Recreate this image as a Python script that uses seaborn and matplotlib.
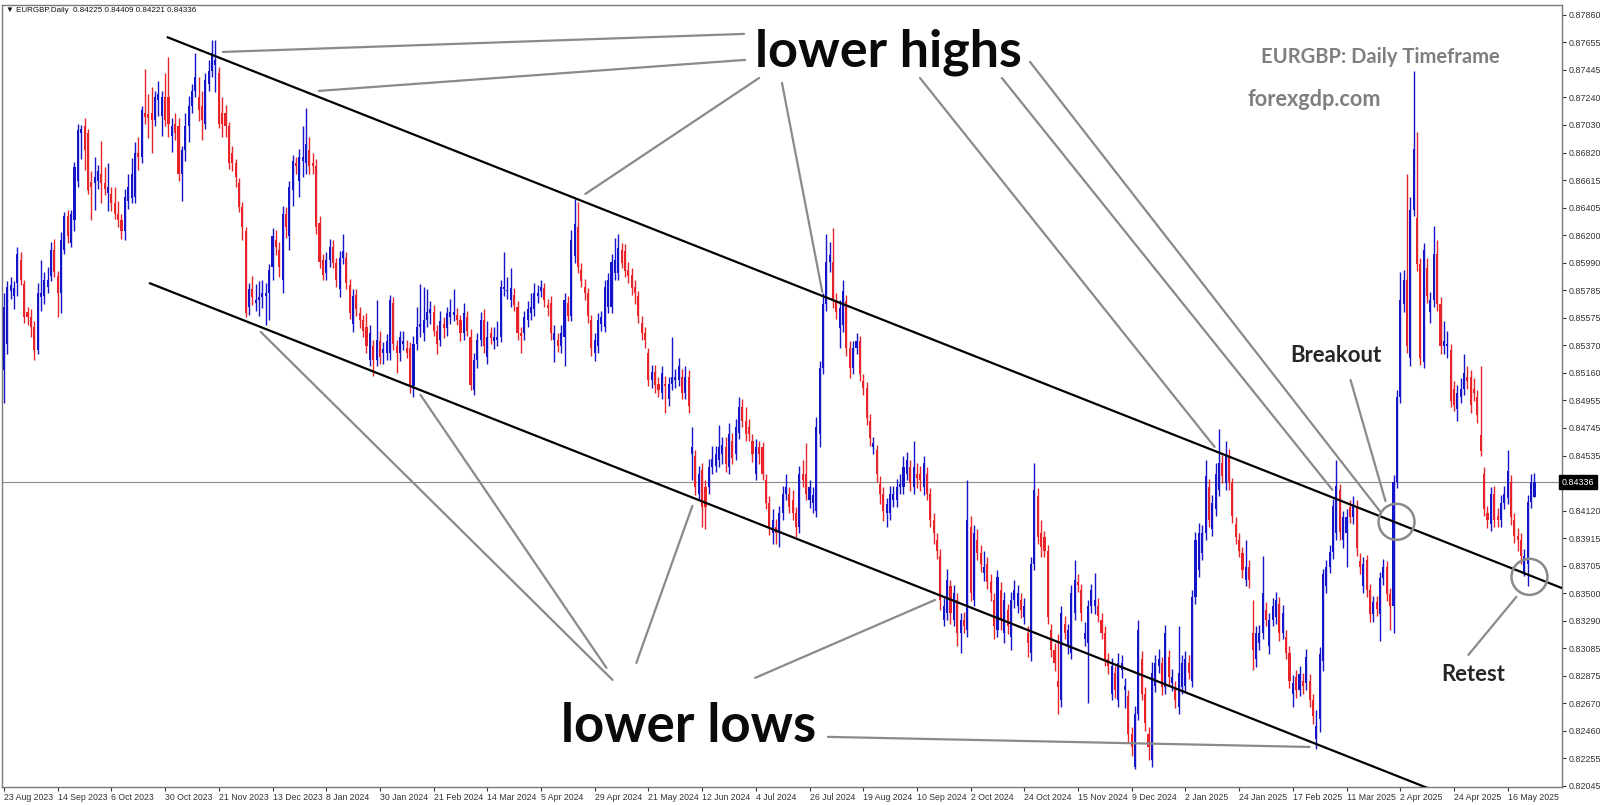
import numpy as np
import matplotlib
matplotlib.use("Agg")
import matplotlib.pyplot as plt
from matplotlib.patches import Ellipse
import seaborn as sns

# daily EURGBP candles, prices in pips (x 1e-4)
open_pips = [
    8518, 8538, 8578, 8574, 8584, 8601, 8583, 8562, 8558, 8551,
    8533, 8573, 8574, 8581, 8589, 8609, 8589, 8576, 8609, 8634,
    8614, 8631, 8661, 8697, 8702, 8697, 8660, 8659, 8661, 8666,
    8659, 8652, 8651, 8644, 8636, 8631, 8623, 8646, 8648, 8649,
    8682, 8679, 8712, 8711, 8712, 8707, 8722, 8710, 8724, 8724,
    8695, 8704, 8702, 8666, 8684, 8702, 8717, 8729, 8724, 8717,
    8704, 8734, 8744, 8748, 8742, 8712, 8712, 8702, 8682, 8674,
    8659, 8641, 8623, 8566, 8579, 8569, 8571, 8573, 8574, 8576,
    8596, 8616, 8609, 8586, 8636, 8619, 8654, 8674, 8661, 8676,
    8674, 8684, 8674, 8672, 8629, 8601, 8591, 8601,
    8611, 8599, 8579, 8603, 8603, 8582, 8553, 8575, 8561, 8556,
    8551, 8526, 8536, 8526, 8540, 8531, 8531, 8531, 8569, 8536,
    8531, 8538, 8535, 8535, 8506, 8538, 8551, 8546, 8556, 8561,
    8562, 8548, 8541, 8553, 8550, 8558, 8560, 8560, 8556, 8546,
    8558, 8543, 8503, 8526, 8541, 8556, 8528, 8546, 8540, 8541,
    8543, 8579, 8578, 8571, 8575, 8566, 8546, 8546, 8556, 8561,
    8564, 8574, 8578, 8580, 8567, 8569, 8541, 8541, 8536, 8543,
    8569, 8559, 8604, 8626, 8594, 8581, 8576, 8556, 8531, 8536,
    8553, 8551, 8566, 8566, 8591, 8591, 8609, 8608, 8594, 8590,
    8581, 8574, 8554, 8546, 8531, 8511, 8517, 8508, 8501, 8508,
    8496, 8508, 8511, 8511, 8513, 8501, 8513,
    8455, 8453, 8425, 8443, 8430, 8430, 8445, 8446, 8450, 8455,
    8460, 8445, 8465, 8455, 8471, 8490, 8480, 8475, 8465, 8440,
    8460, 8460, 8435, 8418, 8395, 8400, 8395, 8410, 8425, 8425,
    8420, 8410, 8400, 8440, 8440, 8420, 8418, 8412, 8470, 8520,
    8568, 8600, 8600, 8570, 8550, 8552, 8570, 8535, 8520, 8535,
    8540, 8510, 8505, 8480, 8460, 8458, 8432, 8425, 8410, 8410,
    8420, 8420, 8430, 8430, 8440, 8445, 8430, 8440, 8440, 8430,
    8440, 8425, 8405, 8390, 8378, 8330, 8335, 8355, 8330, 8345,
    8320, 8330, 8322, 8400, 8345, 8390, 8380, 8365, 8372, 8358,
    8345, 8322, 8352, 8320, 8337, 8317, 8345, 8340, 8345, 8332,
    8320, 8305, 8372, 8423,
    8395, 8392, 8382, 8322, 8307, 8284, 8269, 8327, 8310, 8305,
    8335, 8358, 8352, 8315, 8312, 8340, 8340, 8340, 8330, 8320,
    8300, 8274, 8290, 8269, 8292, 8277, 8272, 8244, 8219, 8259,
    8300, 8274, 8244, 8224, 8280, 8295, 8297, 8279, 8302, 8282,
    8279, 8264, 8279, 8280, 8297, 8284, 8347, 8367, 8380, 8395,
    8430, 8398, 8413, 8428, 8448, 8433, 8453, 8433, 8402, 8390,
    8380, 8360, 8370, 8320, 8300, 8312, 8320, 8337, 8310, 8330,
    8332, 8342, 8320, 8317, 8305, 8274, 8287, 8277, 8284, 8282,
    8284, 8269, 8240, 8255,
    8299, 8355, 8370, 8381, 8395, 8428, 8390, 8395, 8415, 8407,
    8416, 8374, 8355, 8375, 8352, 8334, 8343, 8334, 8361, 8370,
    8349, 8340, 8434, 8498, 8568, 8586, 8527, 8639, 8633, 8598,
    8524, 8595, 8562, 8571, 8606, 8568, 8536, 8536, 8533, 8504,
    8489, 8498, 8504, 8513, 8513, 8504, 8498, 8469, 8440, 8410,
    8402, 8425, 8408, 8405, 8418, 8422, 8434, 8405, 8393, 8390,
    8366, 8372, 8419, 8422.5,
]

close_pips = [
    8566, 8581, 8582, 8580, 8606, 8586, 8558, 8558, 8551, 8533,
    8576, 8576, 8586, 8586, 8609, 8592, 8576, 8616, 8634, 8619,
    8636, 8671, 8699, 8700, 8684, 8654, 8656, 8664, 8668, 8659,
    8655, 8656, 8644, 8636, 8631, 8623, 8649, 8656, 8666, 8682,
    8679, 8714, 8709, 8708, 8707, 8724, 8726, 8724, 8707, 8704,
    8702, 8697, 8666, 8684, 8702, 8717, 8729, 8739, 8714, 8707,
    8737, 8744, 8757, 8752, 8704, 8704, 8702, 8674, 8674, 8664,
    8641, 8626, 8561, 8579, 8573, 8571, 8573, 8576, 8576, 8594,
    8619, 8611, 8596, 8636, 8626, 8656, 8676, 8672, 8679, 8679,
    8689, 8672, 8672, 8626, 8600, 8590, 8601, 8611,
    8599, 8586, 8603, 8608, 8584, 8561, 8574, 8564, 8556, 8548,
    8536, 8546, 8526, 8541, 8528, 8534, 8540, 8571, 8538, 8531,
    8543, 8540, 8531, 8506, 8538, 8551, 8553, 8556, 8562, 8564,
    8548, 8538, 8555, 8550, 8561, 8562, 8562, 8556, 8546, 8561,
    8548, 8507, 8526, 8541, 8556, 8536, 8543, 8542, 8543, 8543,
    8581, 8581, 8578, 8580, 8567, 8546, 8544, 8558, 8564, 8566,
    8576, 8576, 8581, 8571, 8565, 8546, 8546, 8536, 8546, 8571,
    8559, 8616, 8628, 8596, 8585, 8576, 8559, 8535, 8541, 8556,
    8558, 8581, 8586, 8600, 8601, 8610, 8599, 8593, 8589, 8580,
    8576, 8559, 8546, 8541, 8511, 8517, 8507, 8503, 8516, 8506,
    8508, 8513, 8513, 8521, 8501, 8513, 8491,
    8460, 8430, 8440, 8415, 8415, 8445, 8451, 8455, 8460, 8462,
    8447, 8470, 8452, 8475, 8490, 8480, 8470, 8470, 8455, 8460,
    8455, 8440, 8418, 8400, 8405, 8395, 8410, 8425, 8430, 8415,
    8410, 8400, 8440, 8435, 8425, 8430, 8424, 8475, 8520, 8568,
    8600, 8605, 8570, 8562, 8565, 8578, 8535, 8520, 8535, 8540,
    8515, 8505, 8482, 8467, 8463, 8440, 8425, 8412, 8417, 8425,
    8425, 8430, 8432, 8445, 8450, 8433, 8445, 8437, 8435, 8448,
    8425, 8405, 8395, 8382, 8345, 8340, 8360, 8335, 8350, 8320,
    8330, 8325, 8405, 8350, 8395, 8380, 8372, 8370, 8358, 8350,
    8325, 8362, 8330, 8345, 8325, 8345, 8352, 8350, 8337, 8340,
    8312, 8372, 8428, 8392,
    8385, 8382, 8332, 8307, 8297, 8279, 8335, 8320, 8322, 8350,
    8360, 8356, 8335, 8320, 8340, 8352, 8345, 8333, 8320, 8300,
    8295, 8295, 8277, 8297, 8297, 8280, 8244, 8234, 8259, 8322,
    8274, 8252, 8234, 8290, 8297, 8300, 8279, 8320, 8287, 8287,
    8269, 8290, 8297, 8300, 8290, 8347, 8390, 8395, 8395, 8438,
    8405, 8418, 8440, 8448, 8438, 8453, 8433, 8408, 8392, 8382,
    8367, 8370, 8360, 8307, 8320, 8320, 8350, 8330, 8330, 8340,
    8345, 8320, 8335, 8305, 8284, 8282, 8277, 8289, 8280, 8302,
    8269, 8257, 8250, 8304,
    8364, 8370, 8381, 8416, 8431, 8396, 8407, 8407, 8407, 8417,
    8384, 8370, 8372, 8352, 8334, 8343, 8338, 8361, 8370, 8349,
    8340, 8434, 8498, 8571, 8586, 8536, 8639, 8685, 8598, 8527,
    8609, 8574, 8571, 8606, 8568, 8536, 8540, 8538, 8495, 8492,
    8501, 8504, 8516, 8510, 8492, 8501, 8484, 8457, 8413, 8405,
    8425, 8405, 8405, 8418, 8425, 8442, 8407, 8393, 8390, 8378,
    8378, 8419, 8434, 8433.6,
]

# wick length above / below the body, pips
wick_up = [
    10, 4, 6, 5, 5, 6, 3, 4, 6, 4, 8, 25, 6, 10, 6, 8, 4, 6, 3, 5,
    3, 4, 5, 3, 6, 3, 8, 15, 5, 25, 12, 18, 5, 12, 10, 5, 6, 10, 12, 8,
    12, 3, 33, 15, 20, 5, 10, 5, 18, 30, 6, 8, 6, 3, 10, 8, 5, 18, 15, 12,
    5, 8, 10, 15, 5, 12, 6, 3, 5, 3, 4, 4, 3, 5, 10, 12, 12, 10, 8, 4,
    6, 8, 6, 6, 5, 5, 4, 5, 6, 23, 27, 10, 8, 5, 5, 5, 6, 6,
    5, 4, 5, 13, 4, 5, 5, 4, 5, 4, 10, 6, 5, 30, 8, 5, 5, 4, 4, 5,
    5, 8, 6, 4, 6, 15, 30, 25, 17, 6, 5, 4, 8, 5, 5, 10, 17, 5, 4, 8,
    5, 6, 5, 5, 6, 8, 12, 5, 8, 12, 5, 26, 10, 15, 5, 4, 5, 5, 6, 10,
    8, 6, 5, 4, 5, 5, 6, 5, 6, 5, 5, 8, 19, 19, 5, 6, 4, 4, 5, 5,
    5, 5, 5, 6, 17, 11, 5, 5, 6, 5, 5, 4, 5, 5, 4, 5, 5, 5, 5, 6,
    5, 30, 6, 6, 6, 8, 5,
    15, 5, 6, 5, 5, 6, 10, 6, 17, 6, 8, 8, 6, 6, 8, 6, 10, 6, 5, 6,
    5, 4, 5, 5, 8, 6, 6, 6, 10, 5, 8, 5, 6, 10, 23, 5, 6, 8, 5, 8,
    21, 10, 25, 6, 6, 8, 5, 5, 5, 6, 4, 5, 4, 5, 5, 4, 6, 5, 5, 6,
    6, 6, 8, 8, 6, 5, 20, 8, 6, 5, 5, 4, 5, 5, 5, 6, 8, 5, 6, 5,
    5, 6, 30, 8, 6, 8, 6, 12, 5, 6, 5, 5, 6, 6, 5, 6, 8, 6, 5, 6,
    5, 5, 20, 6,
    10, 5, 4, 5, 5, 35, 5, 6, 5, 6, 15, 6, 5, 8, 5, 5, 20, 6, 5, 5,
    5, 6, 5, 8, 6, 6, 5, 5, 6, 8, 6, 5, 5, 8, 6, 8, 5, 6, 5, 6,
    5, 35, 6, 6, 6, 5, 6, 8, 6, 12, 6, 6, 8, 26, 6, 12, 6, 4, 5, 5,
    5, 20, 5, 25, 5, 6, 28, 6, 5, 6, 6, 5, 6, 5, 5, 6, 5, 6, 6, 6,
    5, 5, 12, 5,
    4, 5, 5, 5, 19, 4, 5, 6, 5, 6, 4, 6, 5, 4, 5, 5, 5, 5, 6, 4,
    5, 5, 5, 21, 8, 80, 10, 59, 65, 5, 5, 8, 6, 21, 10, 5, 15, 10, 5, 6,
    6, 8, 14, 8, 5, 8, 5, 52, 5, 6, 5, 6, 6, 6, 6, 16, 5, 5, 6, 5,
    5, 5, 6, 7.3,
]

wick_dn = [
    25, 8, 6, 10, 10, 4, 4, 6, 8, 7, 3, 10, 6, 5, 4, 4, 18, 15, 3, 5,
    3, 8, 5, 20, 15, 3, 25, 20, 6, 15, 5, 14, 6, 4, 5, 6, 7, 6, 4, 5,
    10, 5, 5, 15, 25, 5, 12, 15, 5, 10, 12, 5, 5, 20, 8, 12, 5, 5, 8, 15,
    4, 5, 5, 20, 3, 10, 8, 4, 6, 8, 4, 10, 3, 6, 6, 6, 12, 8, 22, 20,
    10, 6, 8, 10, 8, 10, 12, 6, 12, 12, 8, 6, 6, 5, 5, 4, 5, 5,
    4, 5, 6, 5, 5, 4, 6, 5, 6, 5, 5, 5, 12, 5, 5, 8, 5, 5, 5, 15,
    6, 5, 4, 5, 8, 5, 8, 6, 5, 8, 4, 8, 5, 8, 6, 5, 5, 4, 6, 5,
    4, 4, 4, 6, 5, 5, 5, 4, 6, 5, 4, 5, 6, 5, 4, 5, 13, 5, 5, 5,
    5, 5, 5, 5, 6, 5, 17, 4, 5, 22, 4, 4, 5, 5, 4, 5, 5, 6, 6, 5,
    5, 4, 5, 5, 5, 5, 4, 5, 5, 5, 8, 5, 5, 6, 5, 6, 6, 5, 5, 20,
    5, 5, 6, 5, 5, 5, 5,
    20, 6, 5, 15, 17, 5, 5, 5, 5, 8, 6, 5, 5, 5, 5, 5, 5, 5, 6, 5,
    8, 5, 5, 6, 8, 8, 10, 5, 5, 5, 5, 8, 5, 5, 5, 6, 8, 5, 10, 5,
    5, 8, 5, 5, 15, 5, 6, 8, 5, 5, 5, 6, 5, 6, 5, 6, 8, 8, 10, 5,
    5, 5, 5, 5, 5, 6, 5, 8, 8, 6, 5, 5, 8, 6, 8, 5, 5, 8, 5, 10,
    15, 5, 5, 6, 5, 5, 6, 6, 5, 6, 10, 5, 8, 8, 6, 10, 6, 5, 6, 5,
    10, 6, 5, 5,
    8, 5, 5, 5, 6, 20, 5, 5, 6, 5, 5, 5, 6, 5, 45, 5, 6, 5, 5, 5,
    6, 5, 6, 5, 6, 14, 6, 7, 2, 5, 5, 6, 10, 5, 5, 5, 6, 5, 6, 6,
    6, 5, 5, 5, 5, 5, 5, 5, 5, 5, 5, 5, 5, 5, 5, 5, 5, 5, 5, 5,
    6, 5, 6, 15, 6, 5, 5, 5, 6, 5, 5, 6, 5, 5, 6, 10, 6, 5, 6, 5,
    5, 6, 8, 10,
    8, 5, 5, 5, 5, 6, 6, 25, 4, 5, 6, 6, 5, 5, 6, 6, 5, 20, 5, 5,
    18, 20, 5, 5, 6, 5, 6, 5, 5, 5, 4, 5, 8, 5, 5, 6, 6, 9, 5, 5,
    9, 5, 5, 6, 6, 6, 6, 4, 5, 6, 5, 5, 5, 5, 5, 5, 6, 5, 8, 6,
    3, 17, 5, 0.4,
]

date_labels = [
    "23 Aug 2023", "14 Sep 2023", "6 Oct 2023", "30 Oct 2023", "21 Nov 2023",
    "13 Dec 2023", "8 Jan 2024", "30 Jan 2024", "21 Feb 2024", "14 Mar 2024",
    "5 Apr 2024", "29 Apr 2024", "21 May 2024", "12 Jun 2024", "4 Jul 2024",
    "26 Jul 2024", "19 Aug 2024", "10 Sep 2024", "2 Oct 2024", "24 Oct 2024",
    "15 Nov 2024", "9 Dec 2024", "2 Jan 2025", "24 Jan 2025", "17 Feb 2025",
    "11 Mar 2025", "2 Apr 2025", "24 Apr 2025", "16 May 2025",
]
bars_per_label = 16

price_ticks = [
    0.87860, 0.87655, 0.87445, 0.87240, 0.87030, 0.86820, 0.86615, 0.86405,
    0.86200, 0.85990, 0.85785, 0.85575, 0.85370, 0.85160, 0.84955, 0.84745,
    0.84535, 0.84120, 0.83915, 0.83705, 0.83500, 0.83290, 0.83085, 0.82875,
    0.82670, 0.82460, 0.82255, 0.82045,
]
last_price = 0.84336
header = "EURGBP.Daily  0.84225 0.84409 0.84221 0.84336"

# channel lines: (bar index, price) end points
upper_channel = [(48.5, 0.87694), (464.2, 0.83537)]
lower_channel = [(43.2, 0.85839), (440.0, 0.81871)]

# gray pointer lines from the labels to the swing points
high_pointers = [
    [(220.5, 0.87717), (65.2, 0.87581)],
    [(220.8, 0.87521), (93.8, 0.87287)],
    [(225.0, 0.87385), (173.2, 0.86510)],
    [(231.8, 0.87347), (243.8, 0.85771)],
    [(272.9, 0.87385), (360.7, 0.84602)],
    [(297.3, 0.87385), (395.8, 0.84278)],
    [(305.7, 0.87506), (410.1, 0.84112)],
]
low_pointers = [
    [(181.3, 0.82845), (76.5, 0.85469)],
    [(179.5, 0.82935), (124.1, 0.84994)],
    [(188.4, 0.82973), (205.1, 0.84157)],
    [(223.8, 0.82860), (277.4, 0.83448)],
    [(245.5, 0.82415), (389.0, 0.82339)],
]
breakout_pointer = [(401.2, 0.85107), (411.6, 0.84194)]
retest_pointer = [(450.6, 0.83471), (436.3, 0.83033)]
breakout_ring = (414.9, 0.84037)
retest_ring = (454.5, 0.83622)

BULL = "#1414c8"
BEAR = "#e8232a"
POINTER = "#8a8a8a"
AXIS_FONT = "Liberation Sans"
W, H = 1600, 805

sns.set_theme(style="white")
plt.rcParams["font.family"] = ["DejaVu Sans"]

fig = plt.figure(figsize=(W / 100, H / 100), dpi=100)
fig.patch.set_facecolor("white")
ax = fig.add_axes([2 / W, 18 / H, 1560 / W, 782 / H])

o = np.array(open_pips) / 10000
c = np.array(close_pips) / 10000
hi = np.maximum(o, c) + np.array(wick_up) / 10000
lo = np.minimum(o, c) - np.array(wick_dn) / 10000
x = np.arange(len(o))
colors = np.where(c >= o, BULL, BEAR)

ax.vlines(x, lo, hi, colors=colors, lw=1.0, zorder=2)
body = np.maximum(np.abs(c - o), 0.00004)
ax.bar(x, body, bottom=np.minimum(o, c), width=0.62, color=colors,
       linewidth=0, zorder=3)

ax.set_xlim(-0.6, 464.2)
ax.set_ylim(0.82037, 0.87935)

# current price line
ax.axhline(last_price, color="#8c8c8c", lw=0.8, zorder=1)

# channel
for line in (upper_channel, lower_channel):
    xs, ys = zip(*line)
    ax.plot(xs, ys, color="black", lw=1.6, zorder=4, solid_capstyle="butt")

for line in high_pointers + low_pointers + [breakout_pointer, retest_pointer]:
    xs, ys = zip(*line)
    ax.plot(xs, ys, color=POINTER, lw=1.6, zorder=5, solid_capstyle="round")

for cx, cy in (breakout_ring, retest_ring):
    ax.add_patch(Ellipse((cx, cy), width=10.7, height=0.00272, fill=False,
                         edgecolor=POINTER, lw=1.8, zorder=6))

# axes styling, MT4 like
for sp in ax.spines.values():
    sp.set_color("#7a7a7a")
    sp.set_linewidth(1.0)

ax.yaxis.tick_right()
ax.set_yticks(price_ticks)
ax.set_yticklabels([f"{v:.5f}" for v in price_ticks], fontfamily=AXIS_FONT)
ax.tick_params(axis="y", direction="out", length=3, width=0.8, pad=1.5,
               labelsize=6.4, colors="#333333", right=True, left=False)

ticks = np.arange(len(date_labels)) * bars_per_label
ax.set_xticks(ticks)
ax.set_xticklabels(date_labels, ha="left", fontfamily=AXIS_FONT)
ax.tick_params(axis="x", direction="out", length=3, width=0.8, pad=1.5,
               labelsize=6.3, colors="#333333", bottom=True)
ax.grid(False)

ax.text(1.0, last_price, f"{last_price:.5f}", transform=ax.get_yaxis_transform(),
        ha="left", va="center", fontsize=6.4, color="white", family=AXIS_FONT,
        bbox=dict(boxstyle="square,pad=0.3", fc="black", ec="black"))


def fit_text(x_px, y_px, s, width_px, ha="left", family="Lato",
             weight="bold", **kw):
    # place a label on its baseline and size it to the measured width
    t = fig.text(x_px / W, 1 - y_px / H, s, ha=ha, va="baseline",
                 fontsize=20, family=family, fontweight=weight, **kw)
    r = fig.canvas.get_renderer()
    w = t.get_window_extent(r).width
    t.set_fontsize(20 * width_px / w)
    return t


fit_text(6, 12, "\u25bc " + header, 190, family=[AXIS_FONT, "DejaVu Sans"],
         weight="normal", color="#111111")
fit_text(755, 67, "lower highs", 267, color="#0a0a0a")
fit_text(561, 742, "lower lows", 255, color="#0a0a0a")
fit_text(1500, 63, "EURGBP: Daily Timeframe", 238, ha="right", color="#7f7f7f")
fit_text(1247, 106, "forexgdp.com", 133, color="#7f7f7f")
fit_text(1290, 362, "Breakout", 91, color="#262626")
fit_text(1441, 681, "Retest", 64, color="#262626")

fig.savefig("out.png", dpi=100, facecolor="white")
